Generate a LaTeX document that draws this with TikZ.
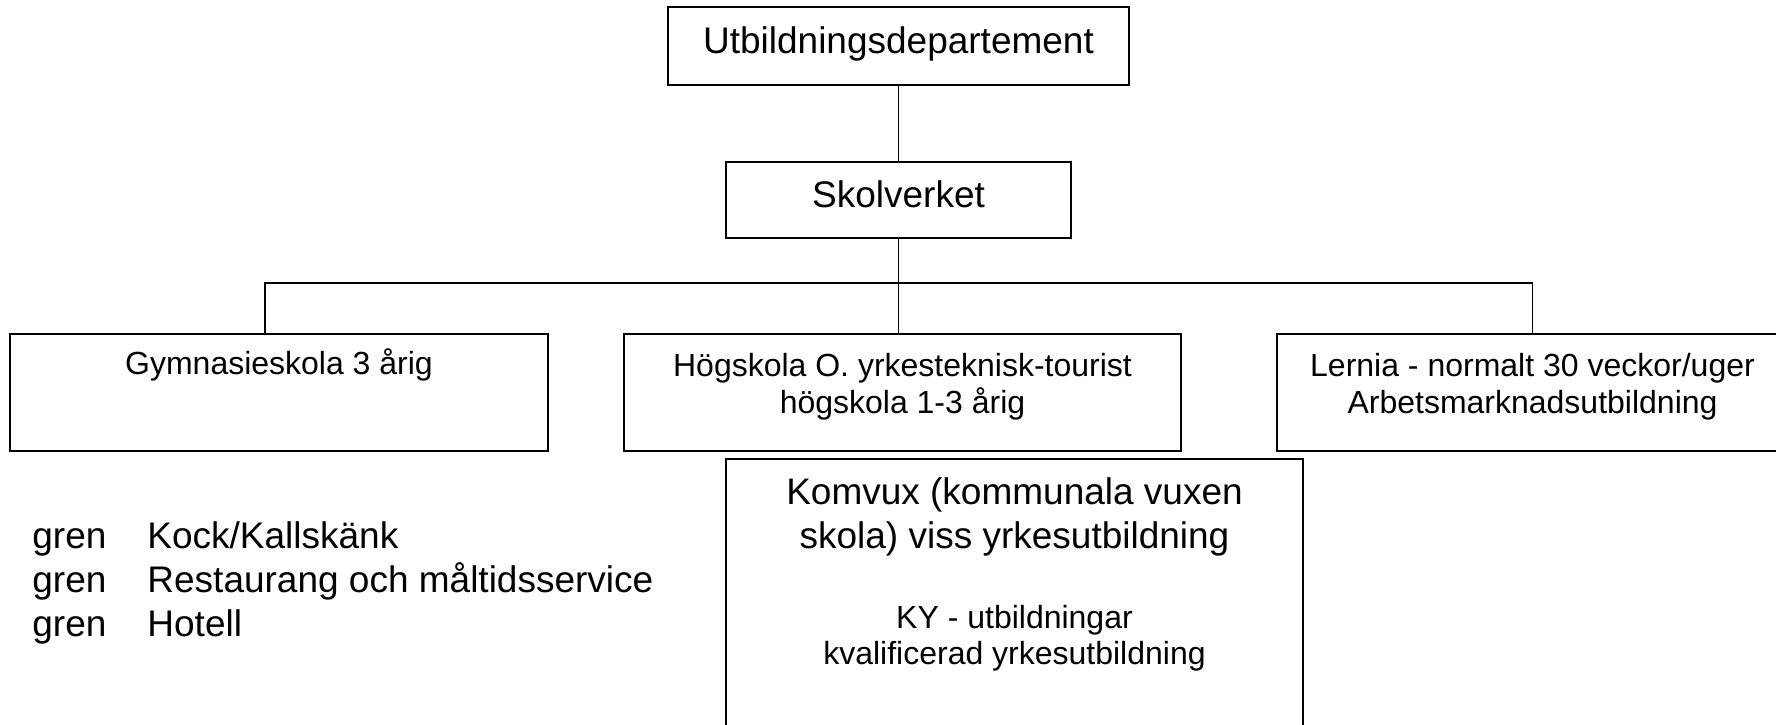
\documentclass[tikz,border=0pt]{standalone}
\usepackage{fontspec}
\setmainfont{Liberation Sans}
\usetikzlibrary{positioning}

\begin{document}
\begin{tikzpicture}[x=0.5pt, y=-0.5pt,
  orgbox/.style={rectangle, draw=black, line width=1pt, inner sep=0pt, align=center},
  bigtext/.style={font=\fontsize{18.5pt}{22pt}\selectfont},
  smalltext/.style={font=\fontsize{16pt}{18.5pt}\selectfont},
  orgline/.style={line width=0.8pt}]
\clip (0,0) rectangle (1776,724);

\node[orgbox, bigtext, minimum width=230.5pt, minimum height=39pt, text height=12pt, text depth=5pt] (utb) at (898.5,46) {Utbildningsdepartement};
\node[orgbox, bigtext, minimum width=172.5pt, minimum height=38pt, text height=12pt, text depth=5pt] (skolverket) at (898.5,200) {Skolverket};
\draw[orgline] (utb) -- (skolverket);

\node[orgbox, smalltext, anchor=north, minimum width=269pt, text height=20pt, text depth=38.5pt] (gymnasie) at (279,333) {Gymnasieskola 3 årig};
\node[orgbox, smalltext, anchor=north, minimum width=278.5pt, text height=39.5pt, text depth=19pt] (hogskola) at (902.5,333) {Högskola O. yrkesteknisk-tourist\\högskola 1-3 årig};
\node[orgbox, smalltext, anchor=north, minimum width=255.5pt, text height=39.5pt, text depth=19pt] (lernia) at (1532.5,333) {Lernia - normalt 30 veckor/uger\\Arbetsmarknadsutbildning};
\coordinate (barL) at (265,283);
\draw[orgline] (skolverket.south) -- (skolverket.south |- hogskola.north);
\draw[orgline] (barL |- gymnasie.north) -- (barL) -| (lernia.north);

\node[orgbox, bigtext, anchor=north, minimum width=288.5pt, text height=102.5pt, text depth=58.5pt] (komvux) at (1014.5,458) {Komvux (kommunala vuxen\\skola) viss yrkesutbildning\\[18pt]{\fontsize{16pt}{18.5pt}\selectfont KY - utbildningar}\\[-4pt]{\fontsize{16pt}{18.5pt}\selectfont kvalificerad yrkesutbildning}};

\node[bigtext, anchor=base west, inner sep=0pt] (grenar) at (32,548) {\begin{tabular}[t]{@{}l@{\hspace{20.5pt}}l@{}}gren & Kock/Kallskänk\\ gren & Restaurang och måltidsservice\\ gren & Hotell\end{tabular}};
\end{tikzpicture}
\end{document}
